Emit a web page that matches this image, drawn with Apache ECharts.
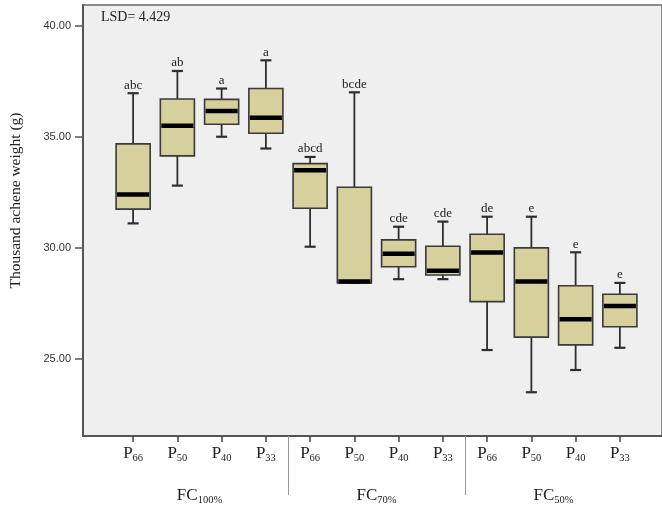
<!DOCTYPE html>
<html>
<head>
<meta charset="utf-8">
<script src="https://cdn.jsdelivr.net/npm/echarts@6/dist/echarts.min.js"></script>
<style>
html,body{margin:0;padding:0;background:#fff;overflow:hidden;}
#c{width:662px;height:507px;}
</style>
</head>
<body>
<div id="c"></div>
<script>
// ---- data ----
const groups = ['FC100%', 'FC70%', 'FC50%'];
const treatments = ['P66', 'P50', 'P40', 'P33'];
const minVals = [31.10, 32.80, 35.00, 34.47, 30.05, 28.42, 28.59, 28.59, 25.40, 23.50, 24.50, 25.50];
const q1Vals  = [31.74, 34.14, 35.56, 35.16, 31.78, 28.42, 29.15, 28.78, 27.58, 25.98, 25.63, 26.45];
const medVals = [32.40, 35.49, 36.16, 35.86, 33.49, 28.48, 29.73, 28.97, 29.79, 28.48, 26.79, 27.38];
const q3Vals  = [34.68, 36.70, 36.68, 37.17, 33.79, 32.73, 30.36, 30.07, 30.61, 30.00, 28.29, 27.91];
const maxVals = [36.96, 37.96, 37.17, 38.44, 34.09, 37.00, 30.95, 31.18, 31.40, 31.40, 29.80, 28.42];
const letters = ['abc', 'ab', 'a', 'a', 'abcd', 'bcde', 'cde', 'cde', 'de', 'e', 'e', 'e'];
const yTicks = [25, 30, 35, 40];
const lsdText = 'LSD= 4.429';
const yTitle = 'Thousand achene weight (g)';

// ---- build ----
const categories = [];
groups.forEach(g => treatments.forEach(t => categories.push(g + '|' + t)));
const boxData = categories.map((c, i) => [i, minVals[i], q1Vals[i], medVals[i], q3Vals[i], maxVals[i]]);

const Y_MIN = 21.53, Y_MAX = 40.93;
const serif = '"Liberation Serif", "DejaVu Serif", serif';
const sans = '"Liberation Sans", Arial, sans-serif';

const chart = echarts.init(document.getElementById('c'), null, {renderer: 'canvas'});
chart.setOption({
  animation: false,
  backgroundColor: '#ffffff',
  title: {
    text: lsdText, left: 101, top: 10, padding: 0,
    textStyle: {fontFamily: serif, fontSize: 14, fontWeight: 'normal', color: '#222'}
  },
  grid: [
    {left: 81, right: -20, top: 5, bottom: 71, show: true, backgroundColor: '#efefef', borderColor: '#8c8c8c', borderWidth: 2},
    {left: 111, right: 20, top: 5, bottom: 71}
  ],
  xAxis: [
    {gridIndex: 0, type: 'value', min: 0, max: 1, axisLine: {show: true, lineStyle: {color: '#555', width: 2}},
     axisTick: {show: false}, axisLabel: {show: false}, splitLine: {show: false}},
    {gridIndex: 1, type: 'category', data: categories, position: 'bottom',
     axisLine: {show: false}, splitLine: {show: false},
     axisTick: {show: true, alignWithLabel: true, length: 6, lineStyle: {color: '#444', width: 1.5}},
     axisLabel: {
       interval: 0, margin: 8,
       formatter: v => { const t = v.split('|')[1]; return '{p|' + t[0] + '}{s|' + t.slice(1) + '}'; },
       rich: {
         p: {fontFamily: serif, fontSize: 17, color: '#222', lineHeight: 20},
         s: {fontFamily: serif, fontSize: 10.5, color: '#222', lineHeight: 20, verticalAlign: 'bottom', padding: [7, 0, 0, 0]}
       }
     }},
    {gridIndex: 1, type: 'category', data: groups, position: 'bottom', offset: 42,
     axisLine: {show: false}, axisTick: {show: false}, splitLine: {show: false},
     axisLabel: {
       interval: 0, margin: 8,
       formatter: v => '{p|FC}{s|' + v.slice(2) + '}',
       rich: {
         p: {fontFamily: serif, fontSize: 17, color: '#222', lineHeight: 20},
         s: {fontFamily: serif, fontSize: 10.5, color: '#222', lineHeight: 20, verticalAlign: 'bottom', padding: [7, 0, 0, 0]}
       }
     }},
    {gridIndex: 1, type: 'category', data: ['', '', '', ''], boundaryGap: false, position: 'bottom',
     axisLine: {show: false}, axisLabel: {show: false}, splitLine: {show: false},
     axisTick: {show: true, interval: (i) => i === 1 || i === 2, length: 59, lineStyle: {color: '#999', width: 1}}}
  ],
  yAxis: [
    {gridIndex: 0, type: 'value', min: Y_MIN, max: Y_MAX,
     axisLine: {show: true, lineStyle: {color: '#555', width: 2}},
     axisTick: {show: true, length: 8, customValues: yTicks, lineStyle: {color: '#555', width: 1.5}},
     axisLabel: {customValues: yTicks, formatter: v => v.toFixed(2), fontFamily: sans, fontSize: 11, color: '#333', margin: 12},
     splitLine: {show: false},
     name: yTitle, nameLocation: 'middle', nameRotate: 90, nameGap: 59,
     nameTextStyle: {fontFamily: serif, fontSize: 15.5, color: '#222', padding: [0, 0, 0, 40]}},
    {gridIndex: 1, type: 'value', min: Y_MIN, max: Y_MAX, show: false}
  ],
  series: [{
    type: 'custom',
    xAxisIndex: 1, yAxisIndex: 1,
    data: boxData,
    renderItem: function (params, api) {
      const x = api.value(0);
      const pMin = api.coord([x, api.value(1)]);
      const pQ1 = api.coord([x, api.value(2)]);
      const pMed = api.coord([x, api.value(3)]);
      const pQ3 = api.coord([x, api.value(4)]);
      const pMax = api.coord([x, api.value(5)]);
      const band = api.size([1, 0])[0];
      const bw = band * 0.77;
      const cw = band * 0.25;
      const cx = pMed[0];
      const stroke = {stroke: '#2e2e2e', lineWidth: 1.8};
      return {
        type: 'group',
        children: [
          {type: 'line', shape: {x1: cx, y1: pMax[1], x2: cx, y2: pQ3[1]}, style: stroke},
          {type: 'line', shape: {x1: cx, y1: pQ1[1], x2: cx, y2: pMin[1]}, style: stroke},
          {type: 'line', shape: {x1: cx - cw / 2, y1: pMax[1], x2: cx + cw / 2, y2: pMax[1]}, style: {stroke: '#2e2e2e', lineWidth: 2.2}},
          {type: 'line', shape: {x1: cx - cw / 2, y1: pMin[1], x2: cx + cw / 2, y2: pMin[1]}, style: {stroke: '#2e2e2e', lineWidth: 2.2}},
          {type: 'rect', shape: {x: cx - bw / 2, y: pQ3[1], width: bw, height: pQ1[1] - pQ3[1]},
           style: {fill: '#d6d09c', stroke: '#3a3a3a', lineWidth: 1.6}},
          {type: 'line', shape: {x1: cx - bw / 2 + 1, y1: pMed[1], x2: cx + bw / 2 - 1, y2: pMed[1]}, style: {stroke: '#000', lineWidth: 4.5}},
          {type: 'text', x: cx, y: pMax[1] - 8,
           style: {text: letters[params.dataIndex], fontFamily: serif, fontSize: 13, fill: '#222', align: 'center', verticalAlign: 'middle'}}
        ]
      };
    }
  }]
});
</script>
</body>
</html>
